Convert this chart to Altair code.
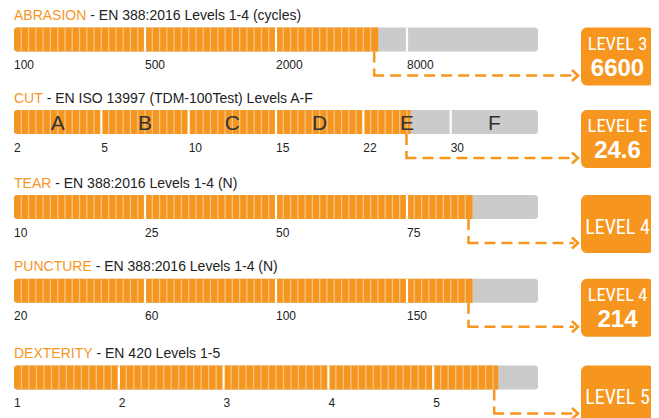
import altair as alt
import pandas as pd

# ---------------- data ----------------
categories = ["ABRASION", "CUT", "TEAR", "PUNCTURE", "DEXTERITY"]
standards = [
    "- EN 388:2016 Levels 1-4 (cycles)",
    "- EN ISO 13997 (TDM-100Test) Levels A-F",
    "- EN 388:2016 Levels 1-4 (N)",
    "- EN 388:2016 Levels 1-4 (N)",
    "- EN 420 Levels 1-5",
]
tick_labels = [
    ["100", "500", "2000", "8000"],
    ["2", "5", "10", "15", "22", "30"],
    ["10", "25", "50", "75"],
    ["20", "60", "100", "150"],
    ["1", "2", "3", "4", "5"],
]
cut_letters = ["A", "B", "C", "D", "E", "F"]
# achieved position, in level-segment units
fill_levels = [2.78, 4.54, 3.5, 3.5, 4.62]
badge_levels = ["LEVEL 3", "LEVEL E", "LEVEL 4", "LEVEL 4", "LEVEL 5"]
badge_values = ["6600", "24.6", "", "214", ""]

# ---------------- style / layout ----------------
ORANGE = "#f6961f"
GRAY = "#cbcbcb"
STRIPE = "#f1c48a"
DARK = "#222222"
FONT = "Liberation Sans"
NARROW = "Liberation Sans Narrow, Arial Narrow, Roboto Condensed, Liberation Sans"
ROW_Y = [31.5, 114, 199, 282.8, 369.5]
TRACK_PX = [6, 530]
CELL_PX = 7.3

# Arial advance widths (per 1000 em) for the title words
ARIAL_W = {"A": 667, "B": 667, "C": 722, "D": 722, "E": 667, "I": 278, "N": 722,
           "O": 778, "P": 667, "R": 722, "S": 667, "T": 611, "U": 722, "X": 667, "Y": 667,
           " ": 278}


def text_w(s, size):
    return sum(ARIAL_W.get(c, 600) for c in s) * size / 1000.0


# ---------------- tables ----------------
nseg = [len(t) for t in tick_labels]
rows = pd.DataFrame({
    "row": list(range(5)),
    "category": categories,
    "standard": standards,
    "fill": [fl / n for fl, n in zip(fill_levels, nseg)],
    "start": [0.0] * 5,
    "end": [1.0] * 5,
    "badge1": badge_levels,
    "badge2": badge_values,
})

ticks, gaps, stripes = [], [], []
track_w = TRACK_PX[1] - TRACK_PX[0]
for r, labels in enumerate(tick_labels):
    n = len(labels)
    cells = max(1, round(track_w / n / CELL_PX))
    fill_f = fill_levels[r] / n
    for i, lab in enumerate(labels):
        ticks.append({"row": r, "f": i / n, "label": lab})
        if i > 0:
            gaps.append({"row": r, "f": i / n})
        for k in range(1, cells):
            p = (i + k / cells) / n
            if p < fill_f - 0.006:
                stripes.append({"row": r, "f": p})
ticks = pd.DataFrame(ticks)
gaps = pd.DataFrame(gaps)
stripes = pd.DataFrame(stripes)
letters = pd.DataFrame({"row": [1] * 6,
                        "f": [(i + 0.5) / 6 for i in range(6)],
                        "letter": cut_letters})

xs = alt.Scale(domain=[0, 1], range=TRACK_PX)
ys = alt.Scale(domain=[0, 1, 2, 3, 4], range=ROW_Y)


def X(field):
    return alt.X(f"{field}:Q", scale=xs, axis=None)


Y = alt.Y("row:Q", scale=ys, axis=None)
Y2 = alt.Y2("row")

base = alt.Chart(rows)

track = base.mark_rect(color=GRAY, yOffset=-12, y2Offset=12, cornerRadius=3).encode(
    x=X("start"), x2=alt.X2("end"), y=Y, y2=Y2)
filled = base.mark_rect(color=ORANGE, yOffset=-12, y2Offset=12,
                        cornerRadiusTopLeft=3, cornerRadiusBottomLeft=3).encode(
    x=X("start"), x2=alt.X2("fill"), y=Y, y2=Y2)
stripe_l = alt.Chart(stripes).mark_rule(color=STRIPE, strokeWidth=1.3, yOffset=-12, y2Offset=12).encode(
    x=X("f"), y=Y, y2=Y2)
gap_l = alt.Chart(gaps).mark_rule(color="white", strokeWidth=2.2, yOffset=-12, y2Offset=12).encode(
    x=X("f"), y=Y, y2=Y2)
letter_l = alt.Chart(letters).mark_text(font=FONT, fontSize=21, color="#333333", dy=8,
                                        baseline="alphabetic", align="center").encode(
    x=X("f"), y=Y, text="letter:N")
tick_l = alt.Chart(ticks).mark_text(font=FONT, fontSize=12, color=DARK, dy=29.5,
                                    baseline="alphabetic", align="left").encode(
    x=X("f"), y=Y, text="label:N")

# connectors
vconn = base.mark_rule(color=ORANGE, strokeWidth=2.5, strokeDash=[11, 6], xOffset=-4,
                       yOffset=12, y2Offset=36).encode(x=X("fill"), y=Y, y2=Y2)
hconn = base.mark_rule(color=ORANGE, strokeWidth=2.5, strokeDash=[11, 6], xOffset=-5,
                       yOffset=36).encode(x=X("fill"), x2=alt.value(566), y=Y)
arrow = base.mark_point(shape="M-1.1,-1L0,0L-1.1,1", size=120, filled=False, color=ORANGE,
                        strokeWidth=2.6, yOffset=36, opacity=1).encode(x=alt.value(570), y=Y)

# badges
badge = base.mark_rect(color=ORANGE, cornerRadius=6, yOffset=-12, y2Offset=46).encode(
    x=alt.value(573), x2=alt.value(646), y=Y, y2=Y2)
two = base.transform_filter("datum.badge2 != ''")
one = base.transform_filter("datum.badge2 == ''")
b1 = two.mark_text(font=NARROW, fontSize=18.5, color="white", dy=10, align="center",
                   baseline="alphabetic").encode(x=alt.value(609.5), y=Y, text="badge1:N")
b2 = two.mark_text(font=FONT, fontSize=24, fontWeight="bold", color="white", dy=36,
                   align="center", baseline="alphabetic").encode(x=alt.value(609.5), y=Y, text="badge2:N")
b3 = one.mark_text(font=NARROW, fontSize=20, color="white", dy=26.5, align="center",
                   baseline="alphabetic").encode(x=alt.value(609.5), y=Y, text="badge1:N")

# titles (orange word + dark remainder)
title_layers = []
for r, cat in enumerate(categories):
    sub = base.transform_filter(f"datum.row == {r}")
    title_layers.append(sub.mark_text(font=FONT, fontSize=14, color=ORANGE, dy=-19.5, align="left",
                                      baseline="alphabetic").encode(x=X("start"), y=Y, text="category:N"))
    title_layers.append(sub.mark_text(font=FONT, fontSize=14, color=DARK, dy=-19.5, align="left",
                                      dx=text_w(cat + " ", 14), baseline="alphabetic").encode(
        x=X("start"), y=Y, text="standard:N"))

chart = alt.layer(
    track, filled, stripe_l, gap_l, letter_l, tick_l, vconn, hconn, arrow,
    badge, b1, b2, b3, *title_layers
).properties(
    width=643, height=410, padding=0, autosize=alt.AutoSizeParams(type="none")
).configure_view(stroke=None)

chart.save("out.html", embed_options={"renderer": "svg", "actions": False})
